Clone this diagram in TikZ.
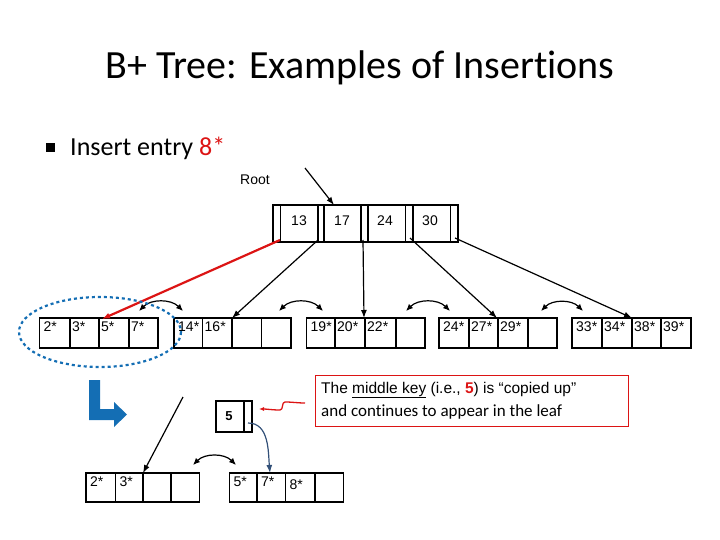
\documentclass[tikz,border=0pt]{standalone}
\usepackage{fontspec}
\setmainfont[Ligatures=NoCommon]{Carlito}
\newfontfamily\arial{Liberation Sans}
\usetikzlibrary{arrows.meta}
\definecolor{myred}{RGB}{220,20,20}
\definecolor{myblue}{RGB}{20,110,180}
\definecolor{dblue}{RGB}{50,80,120}
\tikzset{
 leaftxt/.style={font=\arial\fontsize{14}{15}\selectfont,anchor=north west,inner sep=0pt},
 ptr/.style={-{Latex[length=8pt,width=6pt]},line width=1.2pt},
 dbl/.style={{Latex[length=7pt,width=6pt]}-{Latex[length=7pt,width=6pt]},line width=1.2pt,bend left=45},
}
\begin{document}
\begin{tikzpicture}[x=1pt,y=-1pt]
\useasboundingbox (0,0) rectangle (720,540);
\node[font=\fontsize{40}{44}\selectfont] (title) at (360,68) {B+ Tree: Examples of Insertions};
\fill (46,143) rectangle (55,152);
\node[anchor=west,font=\fontsize{26}{28}\selectfont,inner sep=0pt] (ins) at (70,148) {Insert entry \textcolor{myred}{8*}};
\node[font=\arial\fontsize{14}{15}\selectfont] (root) at (255,180) {Root};
\draw[line width=1.4pt] (273,205) rectangle (458,242);
\foreach \x in {280.5,318,324,361,368,405.5,413,450.5}{\draw[line width=1.4pt] (\x,205) -- (\x,242);}
\foreach \x/\t in {299/13,342/17,385/24,430/30}{\node[font=\arial\fontsize{14}{15}\selectfont] at (\x,221) {\t};}
\coordinate (rtop) at (334,205);
\coordinate (rsrc) at (305,168);
\draw[ptr] (rsrc) -- (rtop);
\foreach \a/\b/\c/\d/\e/\ta/\tb/\tc/\td in {
 39.5/70/99/129/158/2*/3*/5*/7*,
 174/202.5/232/261.5/291/14*/16*//,
 306.5/335/365/396/425/19*/20*/22*/,
 439/469/498/528/557/24*/27*/29*/,
 572/602/632/661/691/33*/34*/38*/39*}{
 \draw[line width=1.4pt] (\a,318) rectangle (\e,348);
 \foreach \x in {\b,\c,\d}{\draw[line width=1.4pt] (\x,318) -- (\x,348);}
 \node[leaftxt] at (\a+4,322) {\ta};
 \node[leaftxt] at (\b+2,322) {\tb};
 \node[leaftxt] at (\c+2,322) {\tc};
 \node[leaftxt] at (\d+2,322) {\td};
}
\coordinate (p0) at (280,240); \coordinate (l1) at (102,319);
\coordinate (p1) at (318,240); \coordinate (l2) at (232,318);
\coordinate (p2) at (363,240); \coordinate (l3) at (364,318);
\coordinate (p3) at (410,238); \coordinate (l4) at (497,318);
\coordinate (p4) at (455,238); \coordinate (l5) at (632,318);
\draw[ptr,myred,line width=2.2pt] (p0) -- (l1);
\draw[ptr] (p1) -- (l2);
\draw[ptr] (p2) -- (l3);
\draw[ptr] (p3) -- (l4);
\draw[ptr] (p4) -- (l5);
\foreach \u/\v in {139/183,279/323,406/450,541/583}{\draw[dbl] (\u,311) to (\v,311);}
\draw[myblue,dashed,line width=2.2pt] (100,332) ellipse [x radius=81,y radius=35];
\fill[myblue] (89,380) -- (100,380) -- (100,409) -- (114,409) -- (114,402) -- (127,414.5) -- (114,427) -- (114,420) -- (89,420) -- cycle;
\draw[line width=1.4pt] (216,401) rectangle (252,432);
\draw[line width=1.4pt] (244,401) -- (244,432);
\node[font=\arial\bfseries\fontsize{13}{14}\selectfont] at (229,416) {5};
\foreach \a/\b/\c/\d/\e/\ta/\tb/\tc in {86/115.5/143/171/199.5/2*/3*/, 229.5/257/285.5/315/343.5/5*/7*/8*}{
 \draw[line width=1.4pt] (\a,473) rectangle (\e,502);
 \foreach \x in {\b,\c,\d}{\draw[line width=1.4pt] (\x,473) -- (\x,502);}
 \node[leaftxt] at (\a+4,477) {\ta};
 \node[leaftxt] at (\b+4,477) {\tb};
 \node[leaftxt] at (\c+4,480) {\tc};
}
\coordinate (s1) at (183,397); \coordinate (b1) at (143,473);
\draw[ptr] (s1) -- (b1);
\coordinate (s2) at (248,423); \coordinate (b2) at (270,473);
\draw[ptr,dblue] (s2) to[out=0,in=95] (b2);
\draw[dbl] (193,465) to (236,465);
\draw[myred,line width=0.8pt] (315,375) rectangle (628,426);
\node[anchor=west,inner sep=0pt,font=\arial\fontsize{15.5}{17}\selectfont] (l1t) at (321,390) {The \underline{middle key} (i.e., \textcolor{myred}{\textbf{5}}) is “copied up”};
\node[anchor=west,inner sep=0pt,font=\fontsize{17}{19}\selectfont] (l2t) at (321,412) {and continues to appear in the leaf};
\coordinate (q1) at (305,403); \coordinate (q2) at (259,409);
\draw[myred,line width=1.3pt,-{Latex[length=5pt,width=4pt]}] (q1) to[out=180,in=0] (285,402) to[out=180,in=0] (280,410) to[out=180,in=0] (q2);
\end{tikzpicture}
\end{document}
